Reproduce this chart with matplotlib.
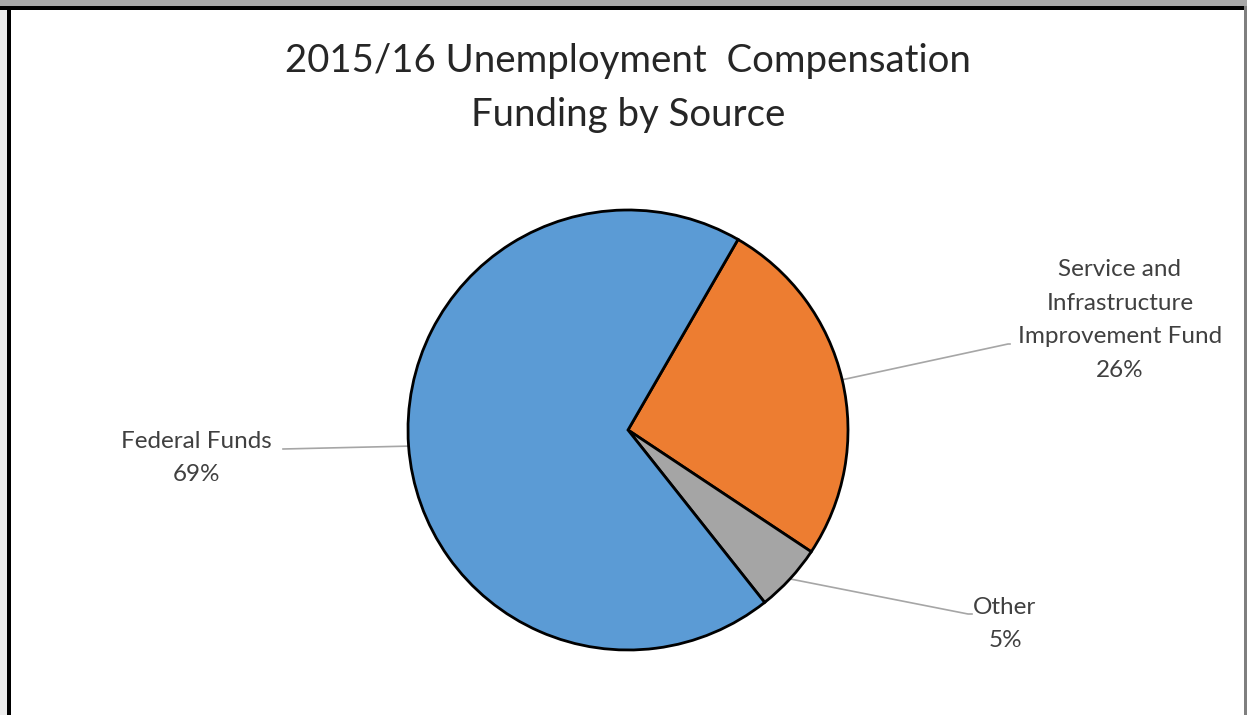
import numpy as np
import matplotlib.pyplot as plt
from matplotlib.patches import Rectangle

# funding shares, in drawing order (clockwise)
sources = ['Service and\nInfrastructure\nImprovement Fund', 'Other', 'Federal Funds']
shares = [26, 5, 69]
colors = ['#ED7D31', '#A5A5A5', '#5B9BD5']

W, H = 1247, 715
plt.rcParams['font.family'] = ['Lato', 'DejaVu Sans']

fig = plt.figure(figsize=(W / 100, H / 100), dpi=100)
ax = fig.add_axes([0, 0, 1, 1])

cx, cy, r = 628, H - 430, 220
wedges, _ = ax.pie(shares, colors=colors, startangle=60, counterclock=False,
                   center=(cx, cy), radius=r,
                   wedgeprops=dict(edgecolor='black', linewidth=2))
ax.set_xlim(0, W)
ax.set_ylim(0, H)
ax.set_aspect('equal')
ax.axis('off')

# label positions (text centre) and leader elbows
label_pos = [(1120, H - 320), (1005, H - 624), (196, H - 458)]
elbows = [(1008, H - 344), (968, H - 614), (283, H - 449)]
ends = [(1010, H - 344), (972, H - 614), (283, H - 449)]
for w, name, val, (tx, ty), (ex, ey), (fx, fy) in zip(wedges, sources, shares,
                                                     label_pos, elbows, ends):
    mid = np.deg2rad((w.theta1 + w.theta2) / 2)
    px, py = cx + r * np.cos(mid), cy + r * np.sin(mid)
    ax.plot([px, ex, fx], [py, ey, fy], color='#A6A6A6', lw=1.2, zorder=0)
    ax.text(tx, ty, f'{name}\n{val}%', ha='center', va='center', fontsize=17.5,
            color='#404040', linespacing=1.73)

ax.text(628, H - 88, '2015/16 Unemployment  Compensation\nFunding by Source',
        ha='center', va='center', fontsize=27.6, color='#262626', linespacing=1.61)

# frame around the chart
ax.add_patch(Rectangle((0, H - 6), W, 6, color='#A8A8A8', lw=0, zorder=5))
ax.add_patch(Rectangle((0, H - 10), W, 4, color='black', lw=0, zorder=6))
ax.add_patch(Rectangle((7, 0), 3.5, H - 6, color='black', lw=0, zorder=6))
ax.add_patch(Rectangle((0, 0), 7, H - 6, color='#EDEDED', lw=0, zorder=5))
ax.add_patch(Rectangle((W - 3, 0), 3, H - 6, color='#7F7F7F', lw=0, zorder=6))

fig.savefig('out.png', dpi=100)
